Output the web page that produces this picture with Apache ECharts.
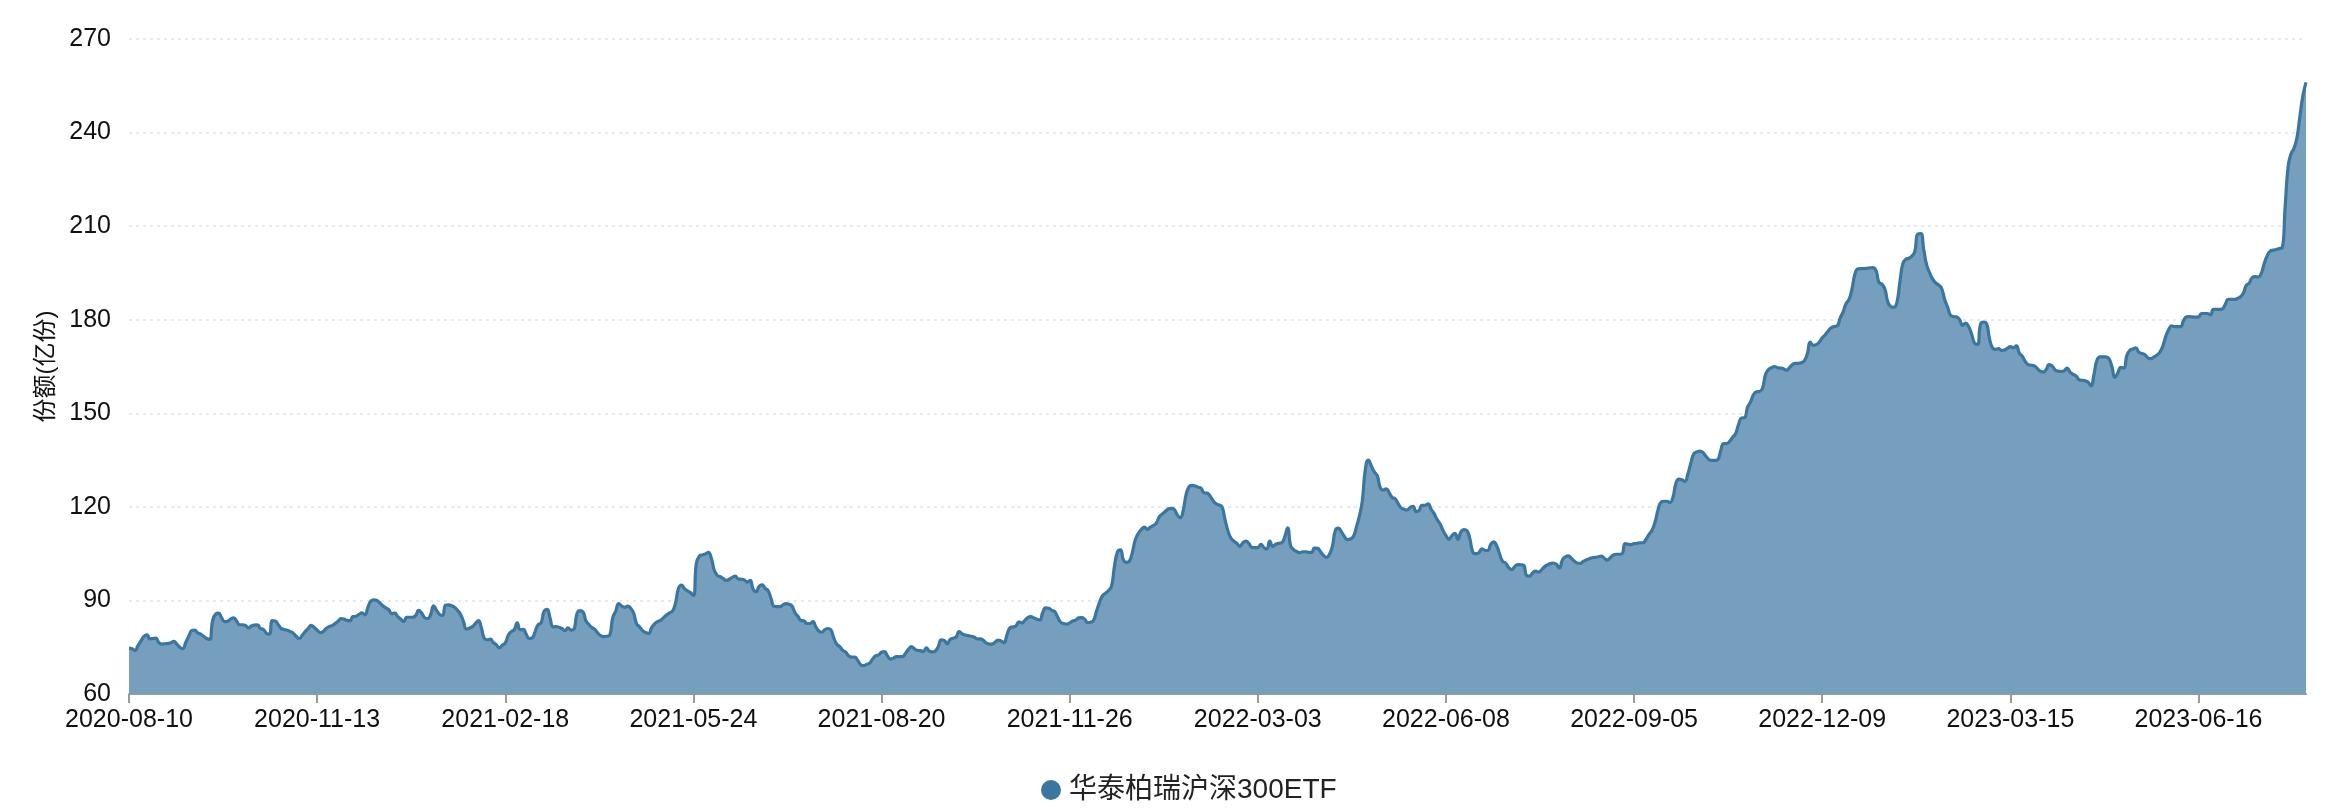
<!DOCTYPE html>
<html>
<head>
<meta charset="utf-8">
<title>华泰柏瑞沪深300ETF 份额</title>
<script src="https://cdn.jsdelivr.net/npm/echarts@6/dist/echarts.min.js"></script>
<style>
  html, body { margin: 0; padding: 0; background: #fff; }
  #chart { width: 2344px; height: 810px; }
</style>
</head>
<body>
<div id="chart"></div>
<script>
// 交易日历：从首日起跳过周末和休市日
const startDay = '2020-08-10';
const holidays = [
  '2020-10-01', '2020-10-02', '2020-10-05', '2020-10-06', '2020-10-07', '2020-10-08',
  '2021-01-01', '2021-02-11', '2021-02-12', '2021-02-15', '2021-02-16', '2021-02-17',
  '2021-04-05', '2021-05-03', '2021-05-04', '2021-05-05', '2021-06-14',
  '2021-09-20', '2021-09-21', '2021-10-01', '2021-10-04', '2021-10-05', '2021-10-06', '2021-10-07',
  '2022-01-03', '2022-01-31', '2022-02-01', '2022-02-02', '2022-02-03', '2022-02-04',
  '2022-04-04', '2022-04-05', '2022-05-02', '2022-05-03', '2022-05-04', '2022-06-03',
  '2022-09-12', '2022-10-03', '2022-10-04', '2022-10-05', '2022-10-06', '2022-10-07',
  '2023-01-02', '2023-01-23', '2023-01-24', '2023-01-25', '2023-01-26', '2023-01-27',
  '2023-04-05', '2023-05-01', '2023-05-02', '2023-05-03', '2023-06-22', '2023-06-23'
];
const extraDays = ['2022-12-31']; // 年末披露日

// 份额(亿份)，每个交易日一个值
const shares = [
  74.7, 74.5, 74.0, 75.5, 77.0, 78.5, 79.0, 77.7, 77.8, 77.9,
  76.5, 76.0, 76.1, 76.2, 76.4, 76.9, 76.0, 75.0, 74.5, 76.5,
  78.5, 80.3, 80.5, 79.6, 79.2, 78.5, 77.8, 77.5, 83.5, 85.6,
  85.9, 84.5, 83.2, 83.3, 84.0, 84.4, 83.5, 82.2, 82.2, 82.0,
  81.2, 81.8, 82.1, 82.2, 81.0, 80.7, 79.5, 79.2, 83.5, 83.4,
  82.2, 81.0, 80.7, 80.4, 80.0, 79.5, 78.5, 77.8, 78.8, 80.0,
  81.0, 82.0, 81.3, 80.5, 79.7, 80.0,
  81.0, 81.6, 81.9, 82.6, 83.3, 84.2, 84.0, 83.6, 83.5, 84.8,
  84.9, 85.5, 86.0, 85.4, 87.8, 89.8, 90.2, 90.0, 89.2, 88.3,
  87.6, 87.0, 85.8, 85.9, 84.8, 84.0, 83.3, 84.6, 84.6, 84.6,
  85.2, 86.8, 86.0, 84.5, 84.2, 85.4, 88.3, 86.8, 85.5, 85.2,
  88.5, 88.6, 88.3, 87.8, 86.8, 85.6, 83.3, 80.8, 81.1, 81.6,
  82.6, 83.5, 81.2, 77.8, 77.4, 77.6, 76.5, 75.8, 74.8, 75.6,
  76.4, 78.8, 80.0, 80.6, 82.8, 80.6,
  80.7, 79.2, 77.8, 78.0, 80.0, 82.2, 82.8, 86.6, 87.1, 84.4,
  81.5, 81.6, 81.4, 81.0, 80.3, 81.2, 80.5, 80.8, 85.7, 86.7,
  86.4, 83.5, 82.3, 81.3, 80.7, 79.5, 78.7, 78.4, 78.5, 78.9,
  84.5, 86.6, 89.0, 88.2, 87.8, 88.2, 87.5, 85.9, 82.5, 81.5,
  80.3, 79.7, 79.4, 81.3, 82.5, 83.2, 83.6, 84.5, 85.3, 86.0,
  86.6, 89.1, 93.8, 94.9, 93.8, 93.1, 92.5, 91.6, 102.0, 104.2,
  104.6, 104.9, 105.4, 103.5, 99.7,
  98.0, 97.6, 97.0, 96.4, 96.8, 97.4, 97.8, 96.9, 96.8, 96.6,
  95.9, 96.4, 93.6, 92.8, 94.5, 95.0, 93.9, 93.2, 90.6, 88.1,
  88.0, 88.0, 88.6, 89.0, 88.8, 88.2, 86.1, 84.9, 83.6, 83.5,
  82.6, 82.6, 83.2, 81.5, 80.2, 79.8, 80.6, 81.0, 80.6, 78.0,
  76.0, 75.2, 74.0, 73.4, 72.2, 71.8, 71.8, 70.8, 69.4, 69.1,
  69.5, 69.9, 71.2, 72.2, 72.5, 73.4, 73.6, 72.2, 71.2, 71.5,
  72.0, 72.0, 72.0, 73.0, 74.3,
  75.2, 74.5, 74.0, 73.9, 73.6, 74.8, 73.7, 73.5, 73.8, 75.2,
  77.4, 77.2, 76.1, 77.5, 77.9, 78.3, 80.0, 79.3, 78.9, 78.7,
  78.5, 78.3, 77.7, 77.7, 77.3, 76.4, 76.0, 76.0, 76.6, 77.3,
  77.0, 76.5, 79.0, 81.2, 81.5, 81.8, 83.1, 82.8, 83.6, 84.5,
  84.8, 84.4, 84.0, 83.7, 86.2, 87.6, 87.5, 86.8, 86.4, 84.6,
  83.0, 82.6, 82.4, 82.8, 83.4, 83.7, 84.4, 84.5, 84.0, 82.9,
  83.0, 83.6, 86.6, 89.4, 91.5,
  92.3, 93.2, 94.5, 101.0, 105.5, 106.2, 103.0, 102.2, 102.6, 105.5,
  109.5, 111.5, 112.8, 113.5, 112.8, 113.5, 114.0, 114.8, 116.8, 117.7,
  118.5, 119.3, 119.5, 119.2, 117.5, 116.5, 118.8, 124.0, 126.5, 126.9,
  126.7, 126.3, 126.0, 124.5, 124.4, 123.5, 122.0, 121.0, 120.6, 120.0,
  116.0, 112.3, 110.0, 109.0, 108.3, 107.3, 108.5, 109.0, 108.3, 107.0,
  106.9, 106.9, 108.0, 107.0, 106.5, 109.0, 107.3, 108.0, 108.3, 108.5,
  110.4, 113.3, 107.5, 106.3, 105.7, 105.3,
  105.6, 105.6, 105.4, 105.4, 106.8, 106.7, 105.6, 104.4, 103.8, 104.8,
  107.5, 112.5, 113.2, 112.0, 110.5, 109.5, 109.7, 110.5, 113.5, 117.0,
  122.0, 132.0, 135.0, 133.2, 131.2, 130.0, 126.2, 125.4, 125.8, 124.5,
  123.0, 122.6, 121.0, 119.7, 119.2, 119.0, 119.8, 120.2, 118.5, 118.9,
  120.5, 120.5, 121.0, 119.3, 117.9, 116.0, 114.6, 112.5, 110.8, 109.6,
  110.8, 111.5, 109.6, 112.0, 112.7, 112.4, 109.8, 105.5, 105.0, 105.3,
  106.5, 106.1, 106.0, 108.0, 108.8,
  107.5, 104.8, 102.5, 102.0, 100.5, 99.9, 100.8, 101.5, 101.4, 101.3,
  98.0, 97.8, 98.8, 99.4, 99.1, 99.8, 100.8, 101.4, 101.8, 102.0,
  101.6, 100.4, 103.0, 104.0, 104.3, 103.5, 102.6, 102.0, 101.9, 102.5,
  103.0, 103.4, 103.7, 103.8, 104.0, 104.2, 103.6, 102.9, 103.7, 104.5,
  104.8, 104.8, 105.0, 108.2, 108.0, 107.9, 108.2, 108.3, 108.5, 108.5,
  109.6, 111.2, 112.5, 115.0, 119.0, 121.5, 121.8, 121.8, 121.4, 123.0,
  127.5, 128.9, 128.7, 128.2, 130.5,
  134.0, 137.0, 137.6, 137.9, 137.5, 136.3, 135.2, 134.9, 134.9, 135.1,
  138.0, 140.3, 140.3, 141.0, 142.3, 143.5, 146.5, 148.5, 148.6, 152.0,
  153.6, 156.0, 156.9, 157.0, 158.0, 162.4, 164.0, 164.6, 165.0, 164.6,
  164.5, 164.3, 163.8, 164.6, 165.6, 166.0, 166.0, 166.2, 166.8, 169.0,
  172.8, 171.8, 172.0, 172.8, 174.2, 175.2, 176.4, 177.4, 177.8, 178.0,
  180.5, 182.5, 185.2, 186.5, 190.0, 194.8, 196.3, 196.4, 196.4, 196.5,
  196.6, 196.7, 195.8, 192.0, 191.4, 189.8,
  185.6, 184.2, 184.0, 185.5, 192.0, 198.0, 199.4, 199.7, 200.4, 201.8,
  207.5, 207.6, 202.5, 197.5, 195.0, 193.0, 191.8, 191.1, 190.0, 186.5,
  184.0, 181.4, 181.0, 180.9, 180.0, 178.2, 178.9, 177.8, 175.5, 172.5,
  172.1, 178.5, 179.2, 178.8, 174.0, 171.0, 170.5, 170.7, 170.2, 170.3,
  170.8, 171.4, 171.0, 171.6, 169.3, 168.3, 166.6, 165.6, 165.4, 165.2,
  164.4, 163.5, 163.2, 164.0, 165.6, 165.2, 163.9, 163.5, 163.4, 163.6,
  164.5, 163.2, 162.5, 162.0, 160.8,
  160.6, 160.4, 160.0, 158.8, 162.5, 167.0, 168.1, 168.1, 168.1, 167.5,
  165.0, 161.5, 163.0, 164.7, 164.5, 168.5, 170.2, 170.6, 171.0, 169.6,
  169.2, 168.8, 167.8, 167.5, 168.0, 168.6, 169.5, 171.4, 174.5, 176.8,
  178.0, 177.8, 177.8, 177.8, 179.7, 180.9, 181.0, 180.9, 180.8, 180.9,
  182.0, 182.0, 182.0, 181.6, 183.3, 183.3, 183.3, 183.5, 185.0, 186.5,
  186.5, 186.5, 186.8, 187.3, 188.5, 191.0, 191.8, 193.5, 193.8, 193.7,
  194.8, 198.0, 200.5, 202.0, 202.3, 202.5, 202.8, 203.0, 216.0, 229.0,
  233.2, 235.0, 238.5, 245.5, 252.0, 256.1
];

const seriesName = '华泰柏瑞沪深300ETF';
const fontFamily = "'Liberation Sans', 'Noto Sans CJK SC', sans-serif";

function buildDays(start, n) {
  const out = [];
  const d = new Date(start + 'T00:00:00Z');
  while (out.length < n) {
    const s = d.toISOString().slice(0, 10);
    const wd = d.getUTCDay();
    if ((wd !== 0 && wd !== 6 && !holidays.includes(s)) || extraDays.includes(s)) {
      out.push(s);
    }
    d.setUTCDate(d.getUTCDate() + 1);
  }
  return out;
}

const days = buildDays(startDay, shares.length);

const chart = echarts.init(document.getElementById('chart'));
const option = {
  animation: false,
  textStyle: { fontFamily: fontFamily },
  grid: { left: 129, right: 38, top: 39, bottom: 116 },
  tooltip: { trigger: 'axis' },
  legend: {
    bottom: 1,
    left: 1036,
    icon: 'circle',
    itemWidth: 26,
    itemHeight: 20,
    textStyle: { fontSize: 28, color: '#222', fontFamily: fontFamily },
    data: [seriesName]
  },
  xAxis: {
    type: 'category',
    boundaryGap: false,
    data: days,
    axisLine: { lineStyle: { color: '#9a9a9a', width: 2 } },
    axisTick: { interval: 62, length: 9, lineStyle: { color: '#9a9a9a', width: 2 } },
    axisLabel: { interval: 62, margin: 14, fontSize: 25, color: '#111', fontFamily: fontFamily },
    splitLine: { show: false }
  },
  yAxis: {
    type: 'value',
    min: 60,
    max: 270,
    interval: 30,
    name: '份额(亿份)',
    nameLocation: 'middle',
    nameGap: 70,
    nameTextStyle: { fontSize: 24, color: '#111', fontFamily: fontFamily },
    axisLine: { show: false },
    axisTick: { show: false },
    axisLabel: { margin: 18, fontSize: 25, color: '#111', fontFamily: fontFamily },
    splitLine: { lineStyle: { type: [3, 4], color: '#dfe4ef', width: 1.5 } }
  },
  series: [
    {
      name: seriesName,
      type: 'line',
      data: shares,
      showSymbol: false,
      smooth: true,
      color: '#3b76a1',
      lineStyle: { width: 3.2, color: '#3b76a1' },
      areaStyle: { color: '#769ebd', opacity: 1 }
    }
  ]
};
chart.setOption(option);
</script>
</body>
</html>
